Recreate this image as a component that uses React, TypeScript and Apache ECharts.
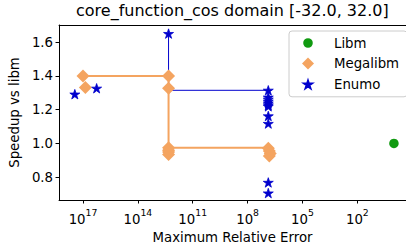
import { useEffect, useRef } from 'react';
import * as echarts from 'echarts';

const TITLE = 'core_function_cos domain [-32.0, 32.0]';
const X_NAME = 'Maximum Relative Error';
const Y_NAME = 'Speedup vs libm';
const SERIES_NAMES = ['Libm', 'Megalibm', 'Enumo'];

const libmError = [1];
const libmSpeedup = [1.0];

const megalibmError = [1e17, 7.4e16, 2.1e12, 2.1e12, 2.1e12, 2.1e12, 2.1e12, 2.1e12, 7.4e6, 6.5e6, 5.8e6, 6.5e6];
const megalibmSpeedup = [1.4, 1.331, 1.4, 1.327, 0.975, 0.96, 0.95, 0.935, 0.972, 0.955, 0.94, 0.925];

const enumoError = [2.8e17, 1.8e16, 2.1e12, 7.4e6, 7.4e6, 7.4e6, 7.4e6, 7.4e6, 7.4e6, 7.4e6, 7.4e6, 7.4e6, 7.4e6, 7.4e6];
const enumoSpeedup = [1.292, 1.327, 1.651, 1.315, 1.274, 1.262, 1.25, 1.239, 1.228, 1.22, 1.163, 1.118, 0.769, 0.706];

const megalibmFrontierError = [1e17, 2.1e12, 2.1e12, 7.4e6];
const megalibmFrontierSpeedup = [1.4, 1.4, 0.975, 0.975];
const enumoFrontierError = [2.1e12, 2.1e12, 7.4e6];
const enumoFrontierSpeedup = [1.651, 1.315, 1.315];

const xTicks = [1e17, 1e14, 1e11, 1e8, 1e5, 1e2];
const yTicks = [0.8, 1.0, 1.2, 1.4, 1.6];
const xRange = [0.219, 2.04e18];
const yRange = [0.665, 1.702];

const GREEN = '#109a10';
const ORANGE = '#f4a460';
const BLUE = '#0000cd';
const FONT = 'DejaVu Sans';

function zip(xs: number[], ys: number[]) {
  return xs.map((x, i) => [x, ys[i]]);
}

function starPoints(r: number) {
  const pts: string[] = [];
  for (let i = 0; i < 10; i++) {
    const rad = i % 2 === 0 ? r : r * 0.381966;
    const a = -Math.PI / 2 + (i * Math.PI) / 5;
    pts.push(`${(rad * Math.cos(a)).toFixed(3)},${(rad * Math.sin(a)).toFixed(3)}`);
  }
  return `M${pts[0]} L${pts.slice(1).join(' L')} Z`;
}

const STAR_SYMBOL = 'path://' + starPoints(1);
const PAD = 'M-7,-7 M7,7 ';
const LEGEND_CIRCLE = 'path://' + PAD + 'M-4.8,0 A4.8,4.8 0 1 1 4.8,0 A4.8,4.8 0 1 1 -4.8,0 Z';
const LEGEND_DIAMOND = 'path://' + PAD + 'M0,-6 L6,0 L0,6 L-6,0 Z';
const LEGEND_STAR = 'path://' + PAD + starPoints(4.1);

export default function App() {
  const ref = useRef<HTMLDivElement>(null);
  useEffect(() => {
    if (!ref.current) return;
    const chart = echarts.init(ref.current, null, { renderer: 'svg' });
    const labelStyle = { color: '#000', fontFamily: FONT, fontSize: 13.3 };
    chart.setOption({
      animation: false,
      backgroundColor: '#fff',
      textStyle: { fontFamily: FONT },
      title: {
        text: TITLE,
        left: 76,
        top: 2,
        padding: 0,
        textStyle: { fontFamily: FONT, fontSize: 16, fontWeight: 'normal', color: '#000' },
      },
      legend: {
        orient: 'vertical',
        left: 289,
        top: 31,
        padding: [5, 8, 4, 11],
        itemWidth: 14,
        itemHeight: 14,
        itemGap: 6.4,
        backgroundColor: 'rgba(255,255,255,0.8)',
        borderColor: '#cccccc',
        borderWidth: 1,
        borderRadius: 3,
        textStyle: { ...labelStyle, padding: [0, 0, 0, 14], lineHeight: 14 },
        data: [
          { name: SERIES_NAMES[0], icon: LEGEND_CIRCLE },
          { name: SERIES_NAMES[1], icon: LEGEND_DIAMOND },
          { name: SERIES_NAMES[2], icon: LEGEND_STAR },
        ],
      },
      grid: { left: 55, right: 0, top: 25, bottom: 50 },
      xAxis: [
        {
          type: 'log',
          inverse: true,
          min: xRange[0],
          max: xRange[1],
          name: X_NAME,
          nameLocation: 'middle',
          nameGap: 31,
          nameTextStyle: labelStyle,
          axisLine: { show: true, lineStyle: { color: '#000', width: 1 } },
          axisTick: { show: true, inside: false, length: 3.5, customValues: xTicks, lineStyle: { color: '#000' } },
          minorTick: { show: false },
          splitLine: { show: false },
          axisLabel: {
            customValues: xTicks,
            margin: 8,
            formatter: (v: number) => `{b|10}{s|${Math.round(Math.log10(v))}}`,
            rich: {
              b: { ...labelStyle, verticalAlign: 'bottom', lineHeight: 18 },
              s: { color: '#000', fontFamily: FONT, fontSize: 9.3, verticalAlign: 'top', lineHeight: 18 },
            },
          },
        },
        {
          type: 'value',
          position: 'top',
          min: 0,
          max: 1,
          axisLine: { show: true, onZero: false, lineStyle: { color: '#000', width: 1 } },
          axisTick: { show: false },
          axisLabel: { show: false },
          splitLine: { show: false },
        },
      ],
      yAxis: {
        type: 'value',
        min: yRange[0],
        max: yRange[1],
        name: Y_NAME,
        nameLocation: 'middle',
        nameGap: 36,
        nameTextStyle: labelStyle,
        axisLine: { show: true, lineStyle: { color: '#000', width: 1 } },
        axisTick: { show: true, inside: false, length: 3.5, customValues: yTicks, lineStyle: { color: '#000' } },
        splitLine: { show: false },
        axisLabel: {
          ...labelStyle,
          customValues: yTicks,
          margin: 6,
          formatter: (v: number) => v.toFixed(1),
        },
      },
      series: [
        {
          name: 'Megalibm frontier',
          type: 'line',
          data: zip(megalibmFrontierError, megalibmFrontierSpeedup),
          showSymbol: false,
          symbol: 'none',
          lineStyle: { color: ORANGE, width: 2 },
          itemStyle: { color: ORANGE },
          z: 1,
          silent: true,
        },
        {
          name: 'Enumo frontier',
          type: 'line',
          data: zip(enumoFrontierError, enumoFrontierSpeedup),
          showSymbol: false,
          symbol: 'none',
          lineStyle: { color: BLUE, width: 1 },
          itemStyle: { color: BLUE },
          z: 1,
          silent: true,
        },
        {
          name: SERIES_NAMES[0],
          type: 'scatter',
          data: zip(libmError, libmSpeedup),
          symbol: 'circle',
          symbolSize: 9.5,
          itemStyle: { color: GREEN, opacity: 1 },
          z: 3,
        },
        {
          name: SERIES_NAMES[1],
          type: 'scatter',
          data: zip(megalibmError, megalibmSpeedup),
          symbol: 'diamond',
          symbolSize: 13,
          itemStyle: { color: ORANGE, opacity: 1 },
          z: 3,
        },
        {
          name: SERIES_NAMES[2],
          type: 'scatter',
          data: zip(enumoError, enumoSpeedup),
          symbol: STAR_SYMBOL,
          symbolKeepAspect: true,
          symbolSize: 10,
          itemStyle: { color: BLUE, opacity: 1, borderColor: BLUE, borderWidth: 0.8 },
          z: 4,
        },
      ],
    });
    return () => chart.dispose();
  }, []);
  return (
    <div
      ref={ref}
      style={{ position: 'fixed', left: 0, top: 0, width: 406, height: 250, background: '#fff' }}
    />
  );
}
